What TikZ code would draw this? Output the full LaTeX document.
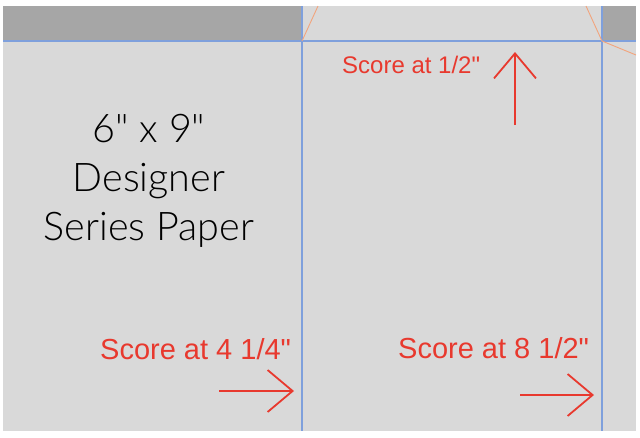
\documentclass[tikz,border=0pt]{standalone}
\usepackage{fontspec}
\newfontfamily\scorefont{Liberation Sans}
\newfontfamily\latolight{Lato Light}
\usetikzlibrary{arrows.meta}
\definecolor{sheet}{HTML}{D9D9D9}
\definecolor{waste}{HTML}{A6A6A6}
\definecolor{foldblue}{HTML}{7FA0DC}
\definecolor{cutorange}{HTML}{F2A47C}
\definecolor{scorered}{HTML}{E8392E}

\begin{document}
\begin{tikzpicture}[x=1pt, y=-1pt,
    fold/.style={draw=foldblue, line width=1.1pt},
    cut/.style={draw=cutorange, line width=0.9pt},
    score/.style={draw=scorered, line width=1.8pt, -{Straight Barb[length=25pt, width=42pt]}},
    scoretext/.style={text=scorered, inner sep=0pt, anchor=base west}]
    \useasboundingbox (0,0) rectangle (640,437);
    \fill[white] (0,0) rectangle (640,437);
    % paper and waste strips
    \fill[sheet] (3,6) rectangle (636,431);
    \fill[waste] (3,6) rectangle (302,41);
    \fill[waste] (602,6) rectangle (636,41);
    % fold lines
    \draw[fold] (3,41) -- (636,41);
    \draw[fold] (302,6) -- (302,431);
    \draw[fold] (602,6) -- (602,431);
    % cut lines
    \draw[cut] (302,41) -- (318,6);
    \draw[cut] (586,6) -- (602,41) -- (636,55);
    % title
    \node[anchor=base, align=center, inner sep=0pt, font=\latolight\fontsize{39.5}{49}\selectfont]
        (title) at (149,240) {6" x 9"\\Designer\\Series Paper};
    % score labels
    \node[scoretext, font=\scorefont\fontsize{24}{24}\selectfont] (half) at (342,73) {Score at 1/2"};
    \node[scoretext, font=\scorefont\fontsize{29}{29}\selectfont] (quarter) at (100,359) {Score at 4 1/4"};
    \node[scoretext, font=\scorefont\fontsize{29}{29}\selectfont] (eight) at (398,358) {Score at 8 1/2"};
    % score arrows
    \coordinate (upfrom) at (515,125);
    \coordinate (upto) at (515,52);
    \coordinate (quarterfrom) at (219,391);
    \coordinate (quarterto) at (294,391);
    \coordinate (eightfrom) at (520,395);
    \coordinate (eightto) at (594,395);
    \draw[score] (upfrom) -- (upto);
    \draw[score] (quarterfrom) -- (quarterto);
    \draw[score] (eightfrom) -- (eightto);
\end{tikzpicture}
\end{document}
